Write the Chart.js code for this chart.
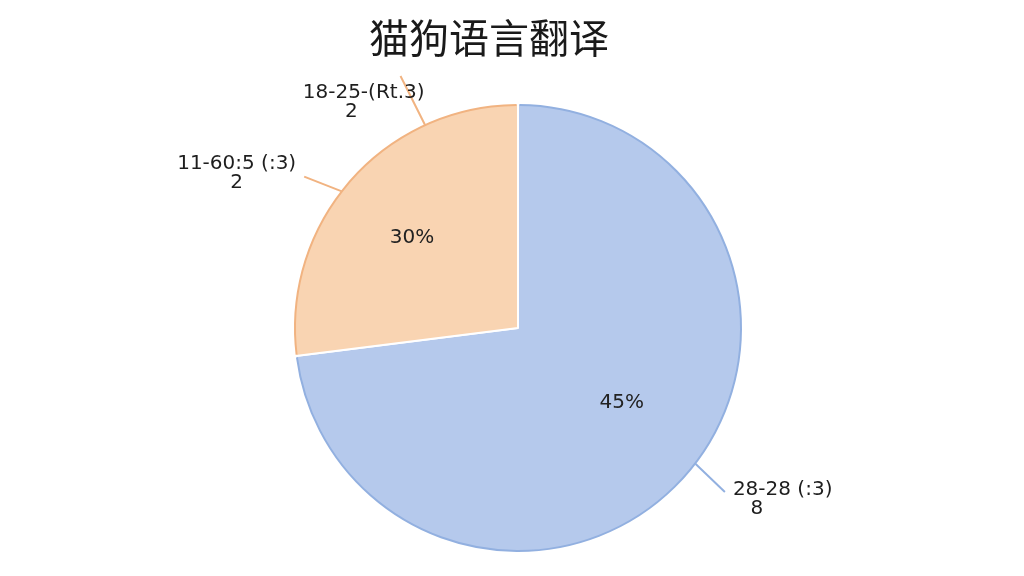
<!DOCTYPE html>
<html>
<head>
<meta charset="utf-8">
<script src="https://cdn.jsdelivr.net/npm/chart.js@4"></script>
<style>
  html, body { margin: 0; padding: 0; background: #fff; }
  #wrap { width: 1024px; height: 576px; }
</style>
</head>
<body>
<div id="wrap"><canvas id="pieChart" width="1024" height="576"></canvas></div>
<script>
// data
const chartTitle = '猫狗语言翻译';
const sliceNames = ['蓝', '橙'];
const sliceValues = [73, 27];
const innerLabels = ['45%', '30%'];
const sliceColors = ['#b5c9ec', '#f9d4b2'];
const sliceEdges = ['#92b0e0', '#f1b381'];

// outer callouts: which slice and their text lines
const calloutSlice = [0, 1, 1];
const calloutText = [
  ['28-28 (:3)', '8'],
  ['11-60:5 (:3)', '2'],
  ['18-25-(Rt.3)', '2']
];

// callout layout (degrees relative to slice middle, radii beyond the rim, text offsets)
const calloutLayout = [
  { shift: -4, endShift: -3, len: 40, dx: 8, dy: -2, align: 'left', sub: 0.24 },
  { shift: -3.6, endShift: -6.1, len: 38, dx: -8, dy: -13, align: 'right', sub: 0.5 },
  { shift: 24, endShift: 23.6, len: 54, dx: 24, dy: 17, align: 'right', sub: 0.4 }
];

const piePlugin = {
  id: 'pieDecor',
  beforeDraw(chart) {
    const ctx = chart.ctx;
    ctx.save();
    ctx.font = '40px "Noto Sans CJK SC", sans-serif';
    ctx.fillStyle = '#1a1a1a';
    ctx.textAlign = 'center';
    ctx.textBaseline = 'middle';
    ctx.fillText(chartTitle, 489, 38);
    ctx.restore();
  },
  afterDatasetsDraw(chart) {
    const ctx = chart.ctx;
    const arcs = chart.getDatasetMeta(0).data;
    ctx.save();
    // coloured rim on each slice
    arcs.forEach((a, i) => {
      ctx.beginPath();
      ctx.arc(a.x, a.y, a.outerRadius - 1, a.startAngle + 0.006, a.endAngle - 0.006);
      ctx.strokeStyle = sliceEdges[i];
      ctx.lineWidth = 2;
      ctx.stroke();
    });
    // percent labels inside
    ctx.font = '20px "DejaVu Sans", sans-serif';
    ctx.fillStyle = '#222';
    ctx.textAlign = 'center';
    ctx.textBaseline = 'middle';
    arcs.forEach((a, i) => {
      const mid = (a.startAngle + a.endAngle) / 2 - (i === 1 ? 0.02 : 0.1);
      const r = a.outerRadius * (i === 1 ? 0.62 : 0.57);
      ctx.fillText(innerLabels[i], a.x + Math.cos(mid) * r, a.y + Math.sin(mid) * r);
    });
    // callouts
    ctx.font = '20px "DejaVu Sans", sans-serif';
    calloutSlice.forEach((s, k) => {
      const a = arcs[s];
      const L = calloutLayout[k];
      const mid = (a.startAngle + a.endAngle) / 2;
      const ang0 = mid + L.shift * Math.PI / 180;
      const ang1 = mid + L.endShift * Math.PI / 180;
      const r0 = a.outerRadius - 1;
      const r1 = a.outerRadius + L.len;
      const x0 = a.x + Math.cos(ang0) * r0, y0 = a.y + Math.sin(ang0) * r0;
      const x1 = a.x + Math.cos(ang1) * r1, y1 = a.y + Math.sin(ang1) * r1;
      ctx.beginPath();
      ctx.moveTo(x0, y0);
      ctx.lineTo(x1, y1);
      ctx.strokeStyle = sliceEdges[s];
      ctx.lineWidth = 2;
      ctx.stroke();
      const lines = calloutText[k];
      ctx.fillStyle = '#1e1e1e';
      ctx.textBaseline = 'middle';
      const tx = x1 + L.dx, ty = y1 + L.dy;
      ctx.textAlign = L.align;
      ctx.fillText(lines[0], tx, ty);
      const w = ctx.measureText(lines[0]).width;
      const left = L.align === 'left' ? tx : tx - w;
      ctx.textAlign = 'center';
      ctx.fillText(lines[1], left + w * L.sub, ty + 19);
    });
    ctx.restore();
  }
};

new Chart(document.getElementById('pieChart'), {
  type: 'pie',
  data: {
    labels: sliceNames,
    datasets: [{
      data: sliceValues,
      backgroundColor: sliceColors,
      borderColor: '#ffffff',
      borderWidth: 2
    }]
  },
  options: {
    responsive: false,
    animation: false,
    layout: { padding: { left: 12, right: 0, top: 103, bottom: 23 } },
    plugins: {
      legend: { display: false },
      tooltip: { enabled: false },
      title: { display: false }
    }
  },
  plugins: [piePlugin]
});
</script>
</body>
</html>
